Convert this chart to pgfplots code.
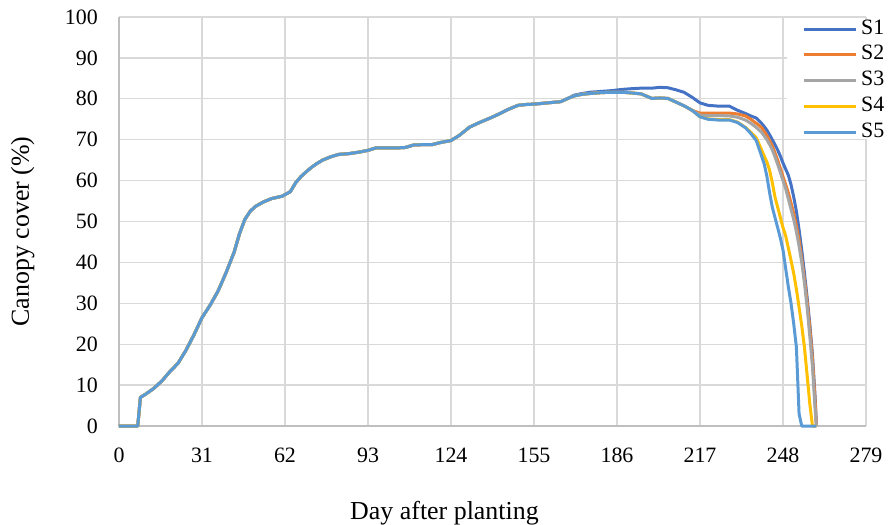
\documentclass[border=0pt]{standalone}
\usepackage{fontspec}
\setmainfont{Liberation Serif}
\usepackage{pgfplots}
\pgfplotsset{compat=1.18}
\usepackage{pgfplotstable}

\definecolor{cSone}{HTML}{4472C4}
\definecolor{cStwo}{HTML}{ED7D31}
\definecolor{cSthree}{HTML}{A5A5A5}
\definecolor{cSfour}{HTML}{FFC000}
\definecolor{cSfive}{HTML}{5B9BD5}
\definecolor{gridc}{HTML}{D9D9D9}
\definecolor{axc}{HTML}{BFBFBF}

% canopy cover (%), day after planting
\pgfplotstableread{
d     s1    s2    s3    s4    s5
0     0     0     0     0     0
7     0     0     0     0     0
8     7     7     7     7     7
10    7.8   7.8   7.8   7.8   7.8
13    9.2   9.2   9.2   9.2   9.2
16    11    11    11    11    11
19    13.3  13.3  13.3  13.3  13.3
22    15.3  15.3  15.3  15.3  15.3
25    18.5  18.5  18.5  18.5  18.5
28    22.3  22.3  22.3  22.3  22.3
31    26.5  26.5  26.5  26.5  26.5
34    29.5  29.5  29.5  29.5  29.5
37    33    33    33    33    33
40    37.5  37.5  37.5  37.5  37.5
43    42.5  42.5  42.5  42.5  42.5
45    47    47    47    47    47
47    50.5  50.5  50.5  50.5  50.5
49    52.5  52.5  52.5  52.5  52.5
51    53.7  53.7  53.7  53.7  53.7
54    54.8  54.8  54.8  54.8  54.8
57    55.6  55.6  55.6  55.6  55.6
61    56.2  56.2  56.2  56.2  56.2
64    57.3  57.3  57.3  57.3  57.3
66    59.5  59.5  59.5  59.5  59.5
68    61    61    61    61    61
70    62.2  62.2  62.2  62.2  62.2
72    63.3  63.3  63.3  63.3  63.3
74    64.2  64.2  64.2  64.2  64.2
76    65    65    65    65    65
79    65.8  65.8  65.8  65.8  65.8
82    66.4  66.4  66.4  66.4  66.4
86    66.6  66.6  66.6  66.6  66.6
90    67    67    67    67    67
93    67.4  67.4  67.4  67.4  67.4
96    68    68    68    68    68
100   68    68    68    68    68
104   68    68    68    68    68
107   68.1  68.1  68.1  68.1  68.1
110   68.7  68.7  68.7  68.7  68.7
114   68.8  68.8  68.8  68.8  68.8
117   68.8  68.8  68.8  68.8  68.8
120   69.3  69.3  69.3  69.3  69.3
124   69.8  69.8  69.8  69.8  69.8
127   71    71    71    71    71
131   73.1  73.1  73.1  73.1  73.1
135   74.3  74.3  74.3  74.3  74.3
139   75.4  75.4  75.4  75.4  75.4
142   76.3  76.3  76.3  76.3  76.3
145   77.3  77.3  77.3  77.3  77.3
149   78.4  78.4  78.4  78.4  78.4
152   78.6  78.6  78.6  78.6  78.6
155   78.7  78.7  78.7  78.7  78.7
160   79    79    79    79    79
165   79.3  79.3  79.3  79.3  79.3
168   80.2  80.2  80.2  80.2  80.2
170   80.9  80.7  80.7  80.7  80.7
173   81.3  81.1  81.1  81.1  81.1
176   81.6  81.3  81.3  81.3  81.3
180   81.8  81.5  81.5  81.5  81.5
184   82.0  81.6  81.6  81.6  81.6
188   82.3  81.6  81.6  81.6  81.6
192   82.5  81.4  81.4  81.4  81.4
195   82.6  81.2  81.2  81.2  81.2
199   82.6  80.1  80.1  80.1  80.1
202   82.8  80.2  80.2  80.2  80.2
205   82.7  80.1  80.1  80.1  80.1
208   82.2  79.2  79.2  79.2  79.2
211   81.6  78.3  78.3  78.3  78.3
214   80.4  77.2  77.2  77.2  77.2
217   79.0  76.5  76.0  75.6  75.6
220   78.4  76.5  75.9  75.1  75.0
224   78.2  76.5  75.9  74.9  74.8
228   78.2  76.5  75.8  74.9  74.8
231   77.2  76.3  75.5  74.3  74.2
234   76.4  75.8  74.8  73.0  72.9
236   75.8  75.0  74.0  71.8  71.5
238   75.3  74.0  73.0  70.5  69.8
240   74.0  73.0  71.8  67.5  66.0
241   73.2  72.0  70.9  66.0  64.0
242   72.3  71.0  70.0  64.5  61.0
243   71.2  69.8  68.8  62.5  57.0
244   70.0  68.5  67.5  59.5  53.5
245   68.8  66.8  65.8  56.0  51.0
246   67.5  65.0  64.0  53.5  48.5
247   66.0  63.0  62.0  51.0  46.0
248   64.3  61.0  60.0  48.5  43.0
249   62.8  59.0  58.0  46.5  38.5
250   61.3  57.0  55.5  43.5  34.0
251   59.0  54.5  53.0  40.5  30.0
252   56.0  52.0  50.5  37.3  25.0
253   52.5  49.0  47.5  33.5  19.3
254   48.0  45.5  44.0  29.0  3.0
255   43.0  41.0  40.0  24.5  0
256   37.5  36.0  35.0  19.3  0
257   31.5  30.5  29.0  12.5  0
258   25.0  24.0  22.0  5.5   0
259   17.5  16.5  14.5  0     0
260   7.0   6.0   4.0   0     0
260.5 0     0     0     0     0
}\canopy

\begin{document}
\begin{tikzpicture}
\useasboundingbox (-119bp,-99bp) rectangle (769bp,426bp);
\begin{axis}[
  at={(0,0)}, anchor=south west,
  scale only axis, width=747bp, height=409bp,
  clip=false,
  xmin=0, xmax=279, ymin=0, ymax=100,
  xtick={0,31,...,279}, ytick={0,10,...,100},
  axis lines*=left,
  axis line style={-, draw=axc, line width=1.3bp},
  grid=major,
  major grid style={draw=gridc, line width=1.3bp},
  major tick length=0pt,
  /pgf/number format/assume math mode=true,
  tick label style={font=\fontsize{22}{26}\selectfont},
  xticklabel style={anchor=north, inner sep=0pt, yshift=-22bp},
  yticklabel style={anchor=east, inner sep=0pt, xshift=-21bp},
  xlabel={Day after planting},
  xlabel style={font=\fontsize{26}{30}\selectfont, at={(axis description cs:0.4357,-0.2274)}, anchor=base},
  ylabel={Canopy cover (\%)},
  ylabel style={font=\fontsize{26}{30}\selectfont, at={(axis description cs:-0.1205,0.4756)}, anchor=base, rotate=0},
  every axis plot/.append style={line width=3bp, line join=round},
  legend style={at={(axis description cs:0.8943,0.9940)}, anchor=north west,
    fill=white, draw=none, inner xsep=15bp, inner ysep=0pt,
    font=\fontsize{22}{26}\selectfont, row sep=9.8bp, column sep=4bp,
    nodes={inner sep=0pt}},
  legend cell align=left,
  legend image code/.code={\draw[#1] (0bp,-1.5bp) -- (52bp,-1.5bp);},
]
\addplot[cSone]   table[x=d, y=s1] {\canopy};
\addplot[cStwo]   table[x=d, y=s2] {\canopy};
\addplot[cSthree] table[x=d, y=s3] {\canopy};
\addplot[cSfour]  table[x=d, y=s4] {\canopy};
\addplot[cSfive]  table[x=d, y=s5] {\canopy};
\legend{S1,S2,S3,S4,S5}
\end{axis}
\end{tikzpicture}
\end{document}
